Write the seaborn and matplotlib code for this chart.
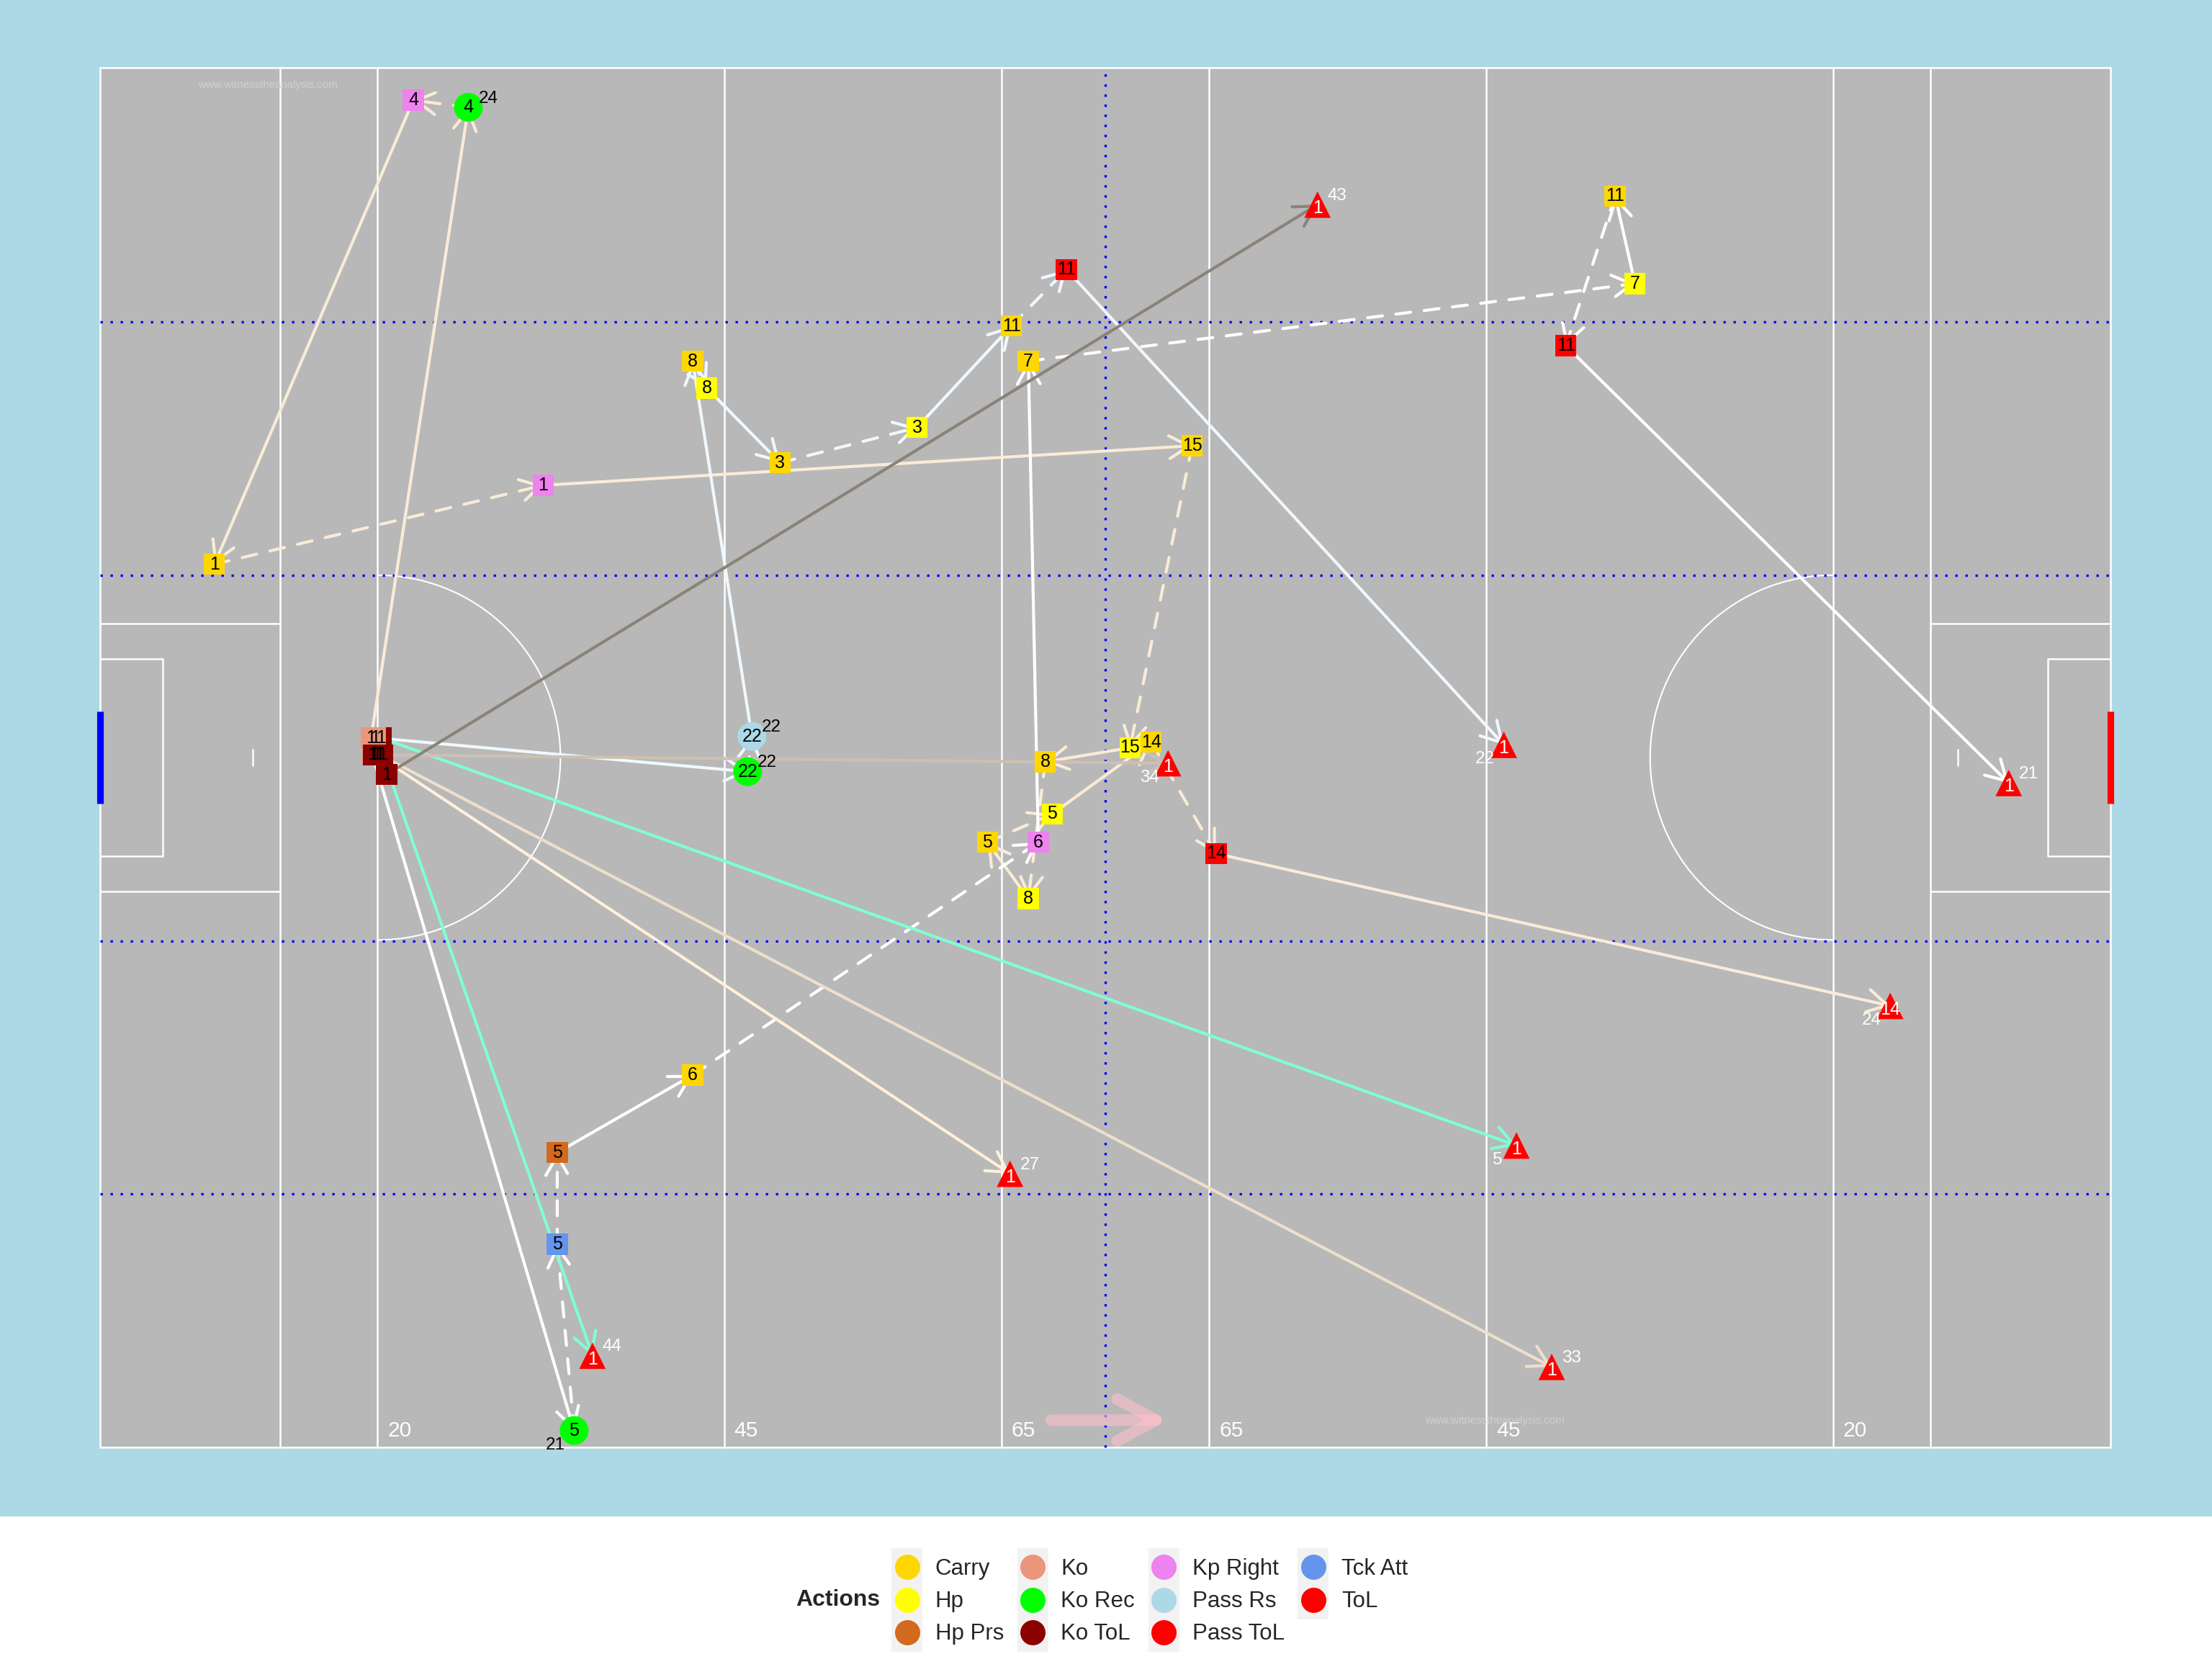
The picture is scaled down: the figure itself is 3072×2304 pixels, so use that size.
import numpy as np
import pandas as pd
import matplotlib
matplotlib.use("Agg")
import matplotlib.pyplot as plt
import seaborn as sns
from matplotlib.patches import Rectangle, Arc, FancyArrowPatch, ArrowStyle
from matplotlib.lines import Line2D
from matplotlib.legend_handler import HandlerBase

sns.set_theme(style="white")
plt.rcParams["font.family"] = ["Liberation Sans", "DejaVu Sans"]

# ---- events (metres on a 145 x 90 pitch) ----
ev_name = ["koToL_a", "ko_a", "ko_b", "ko_c", "koToL_b", "koToL_c", "koToL_d", "koToL_e", "koToL_f",
           "rec4", "kp4", "c1", "kp1", "c15", "hp15", "c8b", "hp8b", "c5b", "hp5b", "c14", "ptol14",
           "rec22", "rs22", "c8a", "hp8a", "c3", "hp3", "c11a", "ptol11a",
           "rec5", "tck5", "prs5", "c6", "kp6", "c7", "hp7", "c11b", "ptol11b",
           "tol43", "tol34", "tol27", "tol33", "tol5", "tol44", "tol22", "tol21", "tol24"]
ev_action = ["Ko ToL", "Ko", "Ko", "Ko", "Ko ToL", "Ko ToL", "Ko ToL", "Ko ToL", "Ko ToL",
             "Ko Rec", "Kp Right", "Carry", "Kp Right", "Carry", "Hp", "Carry", "Hp", "Carry", "Hp", "Carry", "Pass ToL",
             "Ko Rec", "Pass Rs", "Carry", "Hp", "Carry", "Hp", "Carry", "Pass ToL",
             "Ko Rec", "Tck Att", "Hp Prs", "Carry", "Kp Right", "Carry", "Hp", "Carry", "Pass ToL",
             "ToL", "ToL", "ToL", "ToL", "ToL", "ToL", "ToL", "ToL", "ToL"]
ev_x = [20.25, 19.54, 19.84, 19.64, 19.74, 19.94, 20.15, 20.35, 20.66,
        26.56, 22.59, 8.24, 31.95, 78.76, 74.28, 68.17, 66.95, 64.00, 68.68, 75.81, 80.49,
        46.70, 47.01, 42.74, 43.75, 49.05, 58.92, 65.73, 69.70,
        34.19, 32.97, 32.97, 42.74, 67.67, 66.95, 110.71, 109.28, 105.72,
        87.81, 77.03, 65.63, 104.70, 102.16, 35.51, 101.25, 137.67, 129.12]
ev_y = [46.29, 46.29, 46.29, 45.18, 45.18, 45.18, 45.18, 45.18, 43.89,
        87.42, 87.88, 57.61, 62.76, 65.34, 45.64, 44.72, 35.80, 39.48, 41.32, 46.01, 38.74,
        44.08, 46.38, 70.86, 69.11, 64.23, 66.53, 73.16, 76.84,
        1.10, 13.25, 19.23, 24.29, 39.48, 70.86, 75.92, 81.63, 71.87,
        81.07, 44.63, 17.85, 5.25, 19.69, 5.98, 45.83, 43.34, 28.80]
ev_label = ["1", "1", "1", "1", "1", "1", "1", "1", "1",
            "4", "4", "1", "1", "15", "15", "8", "8", "5", "5", "14", "14",
            "22", "22", "8", "8", "3", "3", "11", "11",
            "5", "5", "5", "6", "6", "7", "7", "11", "11",
            "1", "1", "1", "1", "1", "1", "1", "1", "14"]
ev_side = ["", "", "", "", "", "", "", "", "",
           "24", "", "", "", "", "", "", "", "", "", "", "",
           "22", "22", "", "", "", "", "", "",
           "21", "", "", "", "", "", "", "", "",
           "43", "34", "27", "33", "5", "44", "22", "21", "24"]
ev_side_pos = ["", "", "", "", "", "", "", "", "",
               "ur", "", "", "", "", "", "", "", "", "", "", "",
               "ur", "ur", "", "", "", "", "", "",
               "ll", "", "", "", "", "", "", "", "",
               "ur", "ll", "ur", "ur", "ll", "ur", "ll", "ur", "ll"]

# ---- movements between events ----
seg_from = ["ko_a", "rec4", "kp4", "c1", "kp1", "c15", "hp15", "c8b", "hp8b", "c5b", "hp5b", "c14", "ptol14",
            "ko_b", "rec22", "rs22", "c8a", "hp8a", "c3", "hp3", "c11a", "ptol11a",
            "ko_c", "rec5", "tck5", "prs5", "c6", "kp6", "c7", "hp7", "c11b", "ptol11b",
            "koToL_a", "koToL_b", "koToL_c", "koToL_d", "koToL_e", "koToL_f"]
seg_to = ["rec4", "kp4", "c1", "kp1", "c15", "hp15", "c8b", "hp8b", "c5b", "hp5b", "c14", "ptol14", "tol24",
          "rec22", "rs22", "c8a", "hp8a", "c3", "hp3", "c11a", "ptol11a", "tol22",
          "rec5", "tck5", "prs5", "c6", "kp6", "c7", "hp7", "c11b", "ptol11b", "tol21",
          "tol5", "tol34", "tol27", "tol33", "tol44", "tol43"]
seg_colour = ["antiquewhite"] * 13 + ["aliceblue"] * 9 + ["white"] * 10 + \
             ["aquamarine", "antiquewhite3", "antiquewhite1", "antiquewhite2", "aquamarine", "antiquewhite4"]
seg_dashed = [False, True, False, True, False, True, False, True, False, True, False, True, False,
              False, True, False, True, False, True, False, True, False,
              False, True, True, False, True, False, True, False, True, False,
              False, False, False, False, False, False]

r_colours = {"antiquewhite": "#FAEBD7", "antiquewhite1": "#FFEFDB", "antiquewhite2": "#EEDFCC",
             "antiquewhite3": "#CDC0B0", "antiquewhite4": "#8B8378", "aquamarine": "#7FFFD4",
             "aliceblue": "#F0F8FF", "white": "#FFFFFF"}

actions = ["Carry", "Hp", "Hp Prs", "Ko", "Ko Rec", "Ko ToL", "Kp Right", "Pass Rs", "Pass ToL", "Tck Att", "ToL"]
action_colours = ["#FFD700", "#FFFF00", "#D2691E", "#E9967A", "#00FF00", "#8B0000",
                  "#EE82EE", "#ADD8E6", "#FF0000", "#6495ED", "#FF0000"]
action_shapes = ["s", "s", "s", "s", "o", "s", "s", "o", "s", "s", "^"]

# pitch furniture
yard_lines = [13, 20, 45, 65, 80, 100, 125, 132]
yard_text_x = [20, 45, 65, 80, 100, 125]
yard_text = ["20", "45", "65", "65", "45", "20"]
channel_y = [16.56, 33.03, 56.87, 73.43]

ev = pd.DataFrame({"name": ev_name, "action": ev_action, "x": ev_x, "y": ev_y,
                   "label": ev_label, "side": ev_side, "pos": ev_side_pos})
pos = ev.set_index("name")[["x", "y"]]

palette = dict(zip(actions, action_colours))
markers = dict(zip(actions, action_shapes))
sizes = {a: (92 if m == "o" else 78 if m == "^" else 50) for a, m in zip(actions, action_shapes)}

fig = plt.figure(figsize=(10.24, 7.68), dpi=300)
fig.patch.set_facecolor("white")
ax = fig.add_axes([0, 0.0859, 1, 0.9141])
ax.set_facecolor("#ADD8E6")
ax.set_xlim(-7.225, 152.33)
ax.set_ylim(-4.509, 94.42)

# pitch
ax.add_patch(Rectangle((0, 0), 145, 90, facecolor="#B8B8B8", edgecolor="white", lw=0.6, zorder=0.5))
for xl in yard_lines:
    ax.plot([xl, xl], [0, 90], color="white", lw=0.6, zorder=1)
for x0, x1 in [(0, 13), (132, 145)]:
    ax.plot([x0, x1], [53.74, 53.74], color="white", lw=0.6, zorder=1)
    ax.plot([x0, x1], [36.26, 36.26], color="white", lw=0.6, zorder=1)
ax.plot([0, 4.5, 4.5, 0], [51.44, 51.44, 38.56, 38.56], color="white", lw=0.6, zorder=1)
ax.plot([145, 140.5, 140.5, 145], [51.44, 51.44, 38.56, 38.56], color="white", lw=0.6, zorder=1)
ax.add_patch(Arc((20, 45), 26.4, 23.8, theta1=-90, theta2=90, color="white", lw=0.5, zorder=1))
ax.add_patch(Arc((125, 45), 26.4, 23.8, theta1=90, theta2=270, color="white", lw=0.5, zorder=1))
ax.plot([11, 11], [44.5, 45.5], color="white", lw=0.6, zorder=1)
ax.plot([134, 134], [44.5, 45.5], color="white", lw=0.6, zorder=1)
ax.plot([0, 0], [42, 48], color="blue", lw=2.2, solid_capstyle="butt", zorder=2)
ax.plot([145, 145], [42, 48], color="red", lw=2.2, solid_capstyle="butt", zorder=2)
for yc in channel_y:
    ax.plot([0, 145], [yc, yc], color="blue", lw=0.8, ls=(0, (1, 3.2)), zorder=1.5)
ax.plot([72.5, 72.5], [0, 90], color="blue", lw=0.8, ls=(0, (1, 3.2)), zorder=1.5)
for xt, t in zip(yard_text_x, yard_text):
    ax.text(xt + 1.6, 1.1, t, color="white", fontsize=7.2, ha="center", va="center", zorder=2)

ax.text(12.1, 88.9, "www.witnesstheanalysis.com", color="#D0D0D0", fontsize=3.6, ha="center", va="center", zorder=2)
ax.text(100.6, 1.75, "www.witnesstheanalysis.com", color="#D0D0D0", fontsize=3.6, ha="center", va="center", zorder=2)
ax.add_patch(FancyArrowPatch((68.58, 1.78), (77.03, 1.78),
                             arrowstyle=ArrowStyle("->", head_length=1.3, head_width=0.7),
                             mutation_scale=10, lw=3.8, color="#FFC0CB", alpha=0.6,
                             shrinkA=0, shrinkB=0, zorder=2))

# movements
for f, t, c, d in zip(seg_from, seg_to, seg_colour, seg_dashed):
    ax.add_patch(FancyArrowPatch((pos.loc[f, "x"], pos.loc[f, "y"]), (pos.loc[t, "x"], pos.loc[t, "y"]),
                                 arrowstyle=ArrowStyle("->", head_length=0.66, head_width=0.38),
                                 mutation_scale=10, lw=1.0, color=r_colours[c],
                                 linestyle=(0, (5, 4.5)) if d else "-",
                                 shrinkA=0, shrinkB=0, zorder=3))

# events
sns.scatterplot(data=ev, x="x", y="y", hue="action", palette=palette, style="action", markers=markers,
                size="action", sizes=sizes, linewidth=0, legend=False, ax=ax, zorder=5)

for _, r in ev.iterrows():
    tri = r["action"] == "ToL"
    ax.annotate(r["label"], (r["x"], r["y"]), xytext=(0, -1.2 if tri else 0), textcoords="offset points",
                ha="center", va="center", fontsize=6.0, color="white" if tri else "black", zorder=6)
    if r["side"]:
        off = (6.6, 3.0) if r["pos"] == "ur" else (-6.2, -4.8)
        ax.annotate(r["side"], (r["x"], r["y"]), xytext=off, textcoords="offset points",
                    ha="center", va="center", fontsize=5.8, color="white" if tri else "black", zorder=6)

ax.set_xlabel("")
ax.set_ylabel("")
ax.set_xticks([])
ax.set_yticks([])
for s in ax.spines.values():
    s.set_visible(False)


class KeyHandler(HandlerBase):
    def create_artists(self, legend, orig_handle, xdescent, ydescent, width, height, fontsize, trans):
        ext = 0.5 * legend.labelspacing * fontsize + 1.0
        bg = Rectangle((-xdescent, -ydescent - ext), width, height + 2 * ext,
                       facecolor="#F2F2F2", edgecolor="none", transform=trans)
        dot = Line2D([-xdescent + width / 2], [-ydescent + height / 2], marker="o", markersize=8.4,
                     linestyle="none", markerfacecolor=orig_handle.get_markerfacecolor(),
                     markeredgewidth=0, transform=trans)
        return [bg, dot]


handles = [Line2D([], [], marker="o", linestyle="none", markerfacecolor=c, label=a)
           for a, c in zip(actions, action_colours)]
fig.legend(handles=handles, loc="center left", bbox_to_anchor=(0.403, 0.0357), ncol=4, frameon=False,
           fontsize=7.5, handlelength=1.38, handleheight=1.44, handletextpad=0.56, columnspacing=0.6,
           labelspacing=0.27, borderpad=0, borderaxespad=0, handler_map={Line2D: KeyHandler()})
fig.text(0.3597, 0.0357, "Actions", fontsize=7.7, fontweight="bold", ha="left", va="center")

fig.savefig("out.png", dpi=300)
